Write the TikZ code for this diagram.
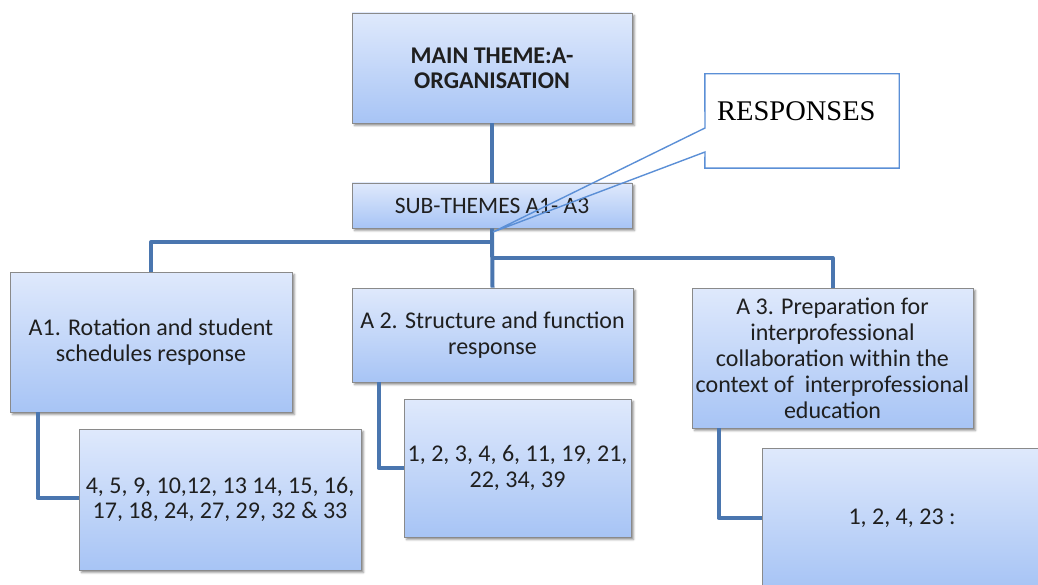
\documentclass[tikz,border=0pt]{standalone}
\usepackage{fontspec}
\setmainfont{Carlito}
\newfontfamily\timesfont{Liberation Serif}
\usetikzlibrary{shadows.blur}

\definecolor{linkblue}{HTML}{4A76AF}
\definecolor{calloutblue}{HTML}{5B8FD6}
\definecolor{boxtop}{HTML}{DFE9FC}
\definecolor{boxbottom}{HTML}{A7C4F5}
\definecolor{boxedge}{HTML}{8A8A8A}

\tikzset{
  themebox/.style={draw=boxedge, line width=0.9pt, top color=boxtop, bottom color=boxbottom,
    align=center, inner sep=2pt, text=black!88,
    blur shadow={shadow xshift=2.5pt, shadow yshift=-2.5pt, shadow opacity=45, shadow blur radius=2pt},
    font=\fontsize{24}{25.5}\selectfont},
  link/.style={draw=linkblue, line width=4pt, line join=round},
  callout/.style={draw=calloutblue, line width=1.4pt, line join=miter}
}

\begin{document}
\begin{tikzpicture}[x=1pt, y=-1pt]
\useasboundingbox (0,0) rectangle (1038,585);
\clip (0,0) rectangle (1038,585);

% theme boxes
\node[themebox, minimum width=280pt, minimum height=110pt, font=\bfseries\fontsize{24}{25}\selectfont]
  (main) at (492,68) {MAIN THEME:A-\\ORGANISATION};
\node[themebox, minimum width=280pt, minimum height=45pt, font=\fontsize{23.5}{25}\selectfont]
  (sub) at (492,205.5) {SUB-THEMES A1- A3};

\node[themebox, minimum width=282pt, minimum height=140pt] (a1) at (151,342)
  {A1. Rotation and student\\schedules response};
\node[themebox, minimum width=281pt, minimum height=94pt] (a2) at (492.5,335)
  {A 2. Structure and function\\response};
\node[themebox, minimum width=281pt, minimum height=140pt, font=\fontsize{24}{26}\selectfont] (a3) at (832.5,358)
  {A 3. Preparation for\\interprofessional\\collaboration within the\\context of\ \ interprofessional\\education};

\node[themebox, minimum width=282pt, minimum height=141pt] (a1v) at (220,499.5)
  {4, 5, 9, 10,12, 13 14, 15, 16,\\17, 18, 24, 27, 29, 32 \& 33};
\node[themebox, minimum width=227pt, minimum height=138pt] (a2v) at (517.5,468)
  {1, 2, 3, 4, 6, 11, 19, 21,\\22, 34, 39};
\node[themebox, minimum width=280pt, minimum height=140pt] (a3v) at (902,518)
  {1, 2, 4, 23 :};

% connectors
\coordinate (jl) at (492,242);
\coordinate (jr) at (492,258);
\draw[link] (main.south) -- (sub.north);
\draw[link] (sub.south) -- (a2.north);
\draw[link] (jl) -| (a1.north);
\draw[link] (jr) -| (a3.north);
\draw[link] ([xshift=28pt]a1.south west) |- ([yshift=1.5pt]a1v.west);
\draw[link] ([xshift=27pt]a2.south west) |- (a2v.west);
\draw[link] ([xshift=27pt]a3.south west) |- (a3v.west);

% callout with pointer
\coordinate (tip) at (493,232);
\node[inner sep=0pt, minimum width=194pt, minimum height=94pt] (resp) at (802,121) {};
\fill[white] (resp.south west) rectangle (resp.north east);
\draw[callout] (705,128) -- (resp.north west) -- (resp.north east) -- (resp.south east)
  -- (resp.south west) -- (705,152) -- (tip) -- cycle;
\node[anchor=base west, inner sep=0pt, font=\timesfont\fontsize{28.5}{30}\selectfont]
  (resptext) at (717,121) {RESPONSES};
\end{tikzpicture}
\end{document}
